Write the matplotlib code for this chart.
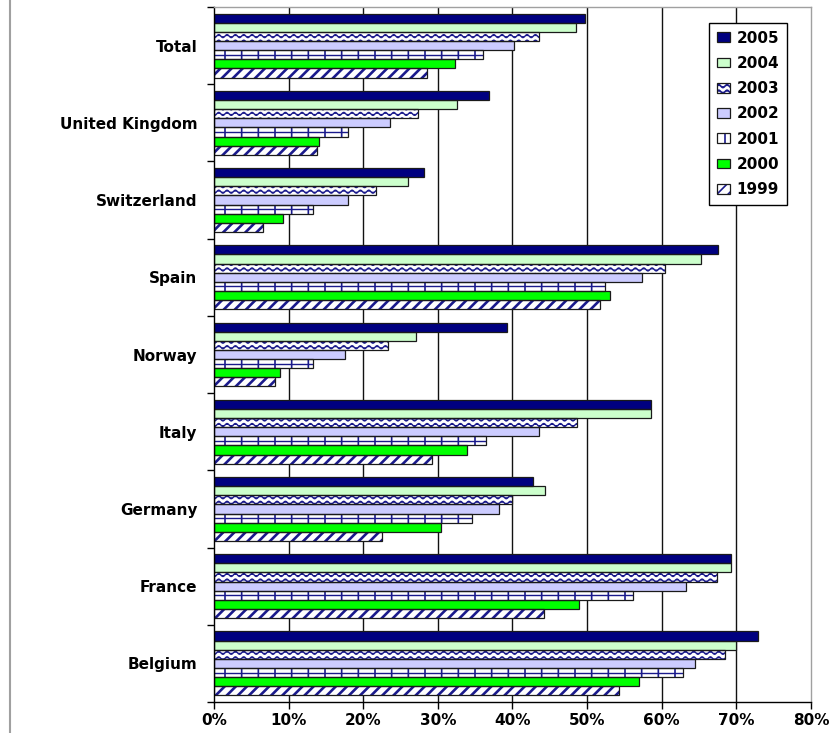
"""Share by country and year, 1999-2005, as a grouped horizontal bar chart."""
import warnings

import numpy as np
import matplotlib
matplotlib.use("Agg")
import matplotlib.pyplot as plt
from matplotlib import hatch as mhatch
from matplotlib.legend_handler import HandlerTuple
from matplotlib.lines import Line2D
from matplotlib.path import Path

warnings.filterwarnings("ignore", message=".*hatch must consist.*")

# categories bottom to top
countries = ["Belgium", "France", "Germany", "Italy", "Norway", "Spain",
             "Switzerland", "United Kingdom", "Total"]
years = ["2005", "2004", "2003", "2002", "2001", "2000", "1999"]

# percent values per year, same order as countries
v2005 = [72.9, 69.3, 42.8, 58.5, 39.3, 67.6, 28.1, 36.9, 49.7]
v2004 = [70.0, 69.3, 44.3, 58.5, 27.1, 65.3, 26.0, 32.6, 48.5]
v2003 = [68.5, 67.4, 39.9, 48.7, 23.3, 60.4, 21.7, 27.3, 43.6]
v2002 = [64.4, 63.3, 38.2, 43.5, 17.5, 57.3, 18.0, 23.6, 40.2]
v2001 = [62.8, 56.1, 34.6, 36.5, 13.3, 52.4, 13.3, 18.0, 36.1]
v2000 = [56.9, 48.9, 30.4, 33.9, 8.9, 53.1, 9.3, 14.1, 32.3]
v1999 = [54.3, 44.2, 22.5, 29.2, 8.2, 51.7, 6.6, 13.8, 28.6]

x_ticks = [0, 10, 20, 30, 40, 50, 60, 70, 80]

NAVY = "#1a1a8c"
EDGE = "#1a1a1a"


class WaveHatch(mhatch.HatchPatternBase):
    """Excel-style wavy line fill, selected with '~'."""

    def __init__(self, hatch, density):
        self.num_rows = int(hatch.count("~") * density)
        self.num_points = 121
        self.num_vertices = self.num_rows * self.num_points

    def set_vertices_and_codes(self, vertices, codes):
        xs = np.linspace(0.0, 1.0, self.num_points)
        wave = 0.015 * np.sin(2 * np.pi * 12 * xs)
        for i in range(self.num_rows):
            seg = slice(i * self.num_points, (i + 1) * self.num_points)
            vertices[seg, 0] = xs
            vertices[seg, 1] = (i + 0.5) / self.num_rows + wave
            codes[seg] = Path.LINETO
            codes[i * self.num_points] = Path.MOVETO


mhatch._hatch_types.append(WaveHatch)

plt.rcParams["font.family"] = "DejaVu Sans"
plt.rcParams["font.weight"] = "bold"
plt.rcParams["hatch.linewidth"] = 1.2

series = [v2005, v2004, v2003, v2002, v2001, v2000, v1999]
styles = [
    dict(fc="#000080", hatch=None, hlw=1.2),
    dict(fc="#ccffcc", hatch=None, hlw=1.2),
    dict(fc="white", hatch="~~~", hlw=1.0),
    dict(fc="#ccccff", hatch=None, hlw=1.2),
    dict(fc="white", hatch="|", hlw=1.2),
    dict(fc="#00ff00", hatch=None, hlw=1.2),
    dict(fc="white", hatch="///", hlw=1.9),
]

fig = plt.figure(figsize=(8.37, 7.33), dpi=100)
ax = fig.add_axes([214 / 837, 31 / 733, 597 / 837, 695 / 733])

y = np.arange(len(countries))
h = 0.118
handles = []
for j, (vals, st) in enumerate(zip(series, styles)):
    pos = y + (3 - j) * h
    with plt.rc_context({"hatch.linewidth": st["hlw"]}):
        fill = ax.barh(pos, vals, h, color=st["fc"], edgecolor=NAVY,
                       linewidth=0, hatch=st["hatch"], zorder=2)
    edge = ax.barh(pos, vals, h, fill=False, edgecolor=EDGE,
                   linewidth=0.9, zorder=2.2)
    if years[j] == "2001":
        # middle rule of the grid fill
        ax.hlines(pos, 0, vals, color=NAVY, linewidth=1.0, zorder=2.1)
    handles.append((fill, edge))

ax.set_xlim(0, 80)
ax.set_ylim(-0.5, len(countries) - 0.5)
ax.set_xticks(x_ticks)
ax.set_xticklabels([f"{t}%" for t in x_ticks], fontsize=11, fontweight="bold")
ax.set_yticks(y)
ax.set_yticklabels(countries, fontsize=11, fontweight="bold")
ax.set_yticks(np.arange(-0.5, len(countries)), minor=True)
ax.tick_params(axis="y", which="major", length=0, pad=12)
ax.tick_params(axis="y", which="minor", length=5, width=1, direction="out",
               color="black")
ax.tick_params(axis="x", length=5, width=1, direction="out", color="black", pad=3)

ax.set_axisbelow(True)
ax.xaxis.grid(True, color="#111111", linewidth=1.0)
ax.xaxis.get_gridlines()[-1].set_visible(False)
ax.xaxis.get_gridlines()[0].set_visible(False)

for side in ("left", "bottom"):
    ax.spines[side].set_color("black")
    ax.spines[side].set_linewidth(1.0)
for side in ("top", "right"):
    ax.spines[side].set_color("#a0a0a0")
    ax.spines[side].set_linewidth(1.0)

leg = ax.legend(handles, years, loc="upper right",
                bbox_to_anchor=(787 / 837, 1 - 23 / 733),
                bbox_transform=fig.transFigure, borderaxespad=0,
                handler_map={tuple: HandlerTuple(ndivide=1)},
                fontsize=11, handlelength=0.9, handleheight=0.6,
                handletextpad=0.4, labelspacing=0.67, borderpad=0.5,
                fancybox=False, framealpha=1, edgecolor="black")
leg.get_frame().set_linewidth(1.0)
for txt in leg.get_texts():
    txt.set_fontweight("bold")

# chart area border on the left
fig.add_artist(Line2D([10 / 837, 10 / 837], [0, 1], transform=fig.transFigure,
                      color="#a0a0a0", linewidth=1.5))

fig.savefig("out.png", dpi=100)
